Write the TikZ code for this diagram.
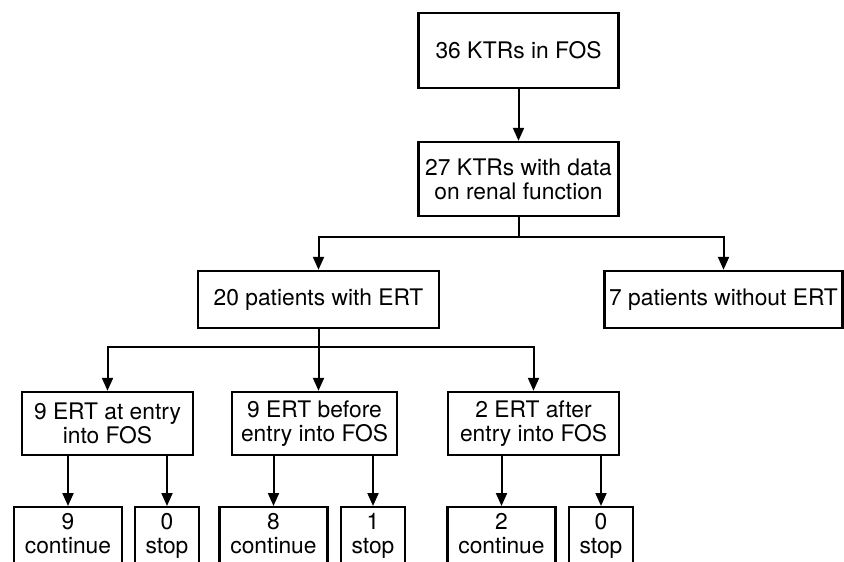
\documentclass[tikz,border=0pt]{standalone}
\usepackage{fontspec}
\setmainfont{TeX Gyre Heros}
\usetikzlibrary{arrows.meta,positioning}

\begin{document}
\begin{tikzpicture}[
    x=0.5pt, y=-0.5pt,
    box/.style={draw, line width=1.2pt, align=center, inner sep=0pt,
                font=\fontsize{11.4}{12}\selectfont},
    leaf/.style={box, anchor=north, inner ysep=2.6pt, text depth=40pt,
                 minimum width=#1},
    arrow/.style={-{Triangle[length=6.5pt, width=5.5pt]}, line width=1pt}
]
\useasboundingbox (0,0) rectangle (844,561);
\clip (0,0) rectangle (844,561);

\node[box, minimum width=100pt, minimum height=37.5pt] (fos) at (518.5,50.5) {36 KTRs in FOS};
\node[box, minimum width=100pt, minimum height=37pt] (renal) at (518.5,179) {27 KTRs with data\\on renal function};

\node[box, minimum width=120.5pt, minimum height=28.5pt] (ert) at (318.5,299.5) {20 patients with ERT};
\node[box, minimum width=119pt, minimum height=28.5pt] (noert) at (723.5,299.5) {7 patients without ERT};

\node[box, minimum width=85.5pt, minimum height=31.5pt] (atentry) at (107.5,423.5) {9 ERT at entry\\into FOS};
\node[box, minimum width=82.5pt, minimum height=31.5pt] (before) at (314.5,423.5) {9 ERT before\\entry into FOS};
\node[box, minimum width=85.5pt, minimum height=31.5pt] (after) at (533.5,423.5) {2 ERT after\\entry into FOS};

\node[leaf=54pt] (cont1) at (68,506) {\begin{tabular}[t]{@{}c@{}}9\\continue\end{tabular}};
\node[leaf=32pt] (stop1) at (167,506) {\begin{tabular}[t]{@{}c@{}}0\\stop\end{tabular}};
\node[leaf=54pt] (cont2) at (273.5,506) {\begin{tabular}[t]{@{}c@{}}8\\continue\end{tabular}};
\node[leaf=32pt] (stop2) at (373,506) {\begin{tabular}[t]{@{}c@{}}1\\stop\end{tabular}};
\node[leaf=54pt] (cont3) at (501.5,506) {\begin{tabular}[t]{@{}c@{}}2\\continue\end{tabular}};
\node[leaf=32pt] (stop3) at (601,506) {\begin{tabular}[t]{@{}c@{}}0\\stop\end{tabular}};

\coordinate (split1) at (0,237);
\coordinate (split2) at (0,347);

\draw[arrow] (fos) -- (renal);
\draw[line width=1pt] (renal.south) -- (renal.south |- split1);
\draw[arrow] (renal.south |- split1) -| (ert.north);
\draw[arrow] (renal.south |- split1) -| (noert.north);

\draw[line width=1pt] (ert.south) -- (ert.south |- split2);
\draw[arrow] (ert.south |- split2) -| (atentry.north);
\draw[arrow] (ert.south) -- (ert.south |- before.north);
\draw[arrow] (ert.south |- split2) -| (after.north);

\draw[arrow] (cont1.north |- atentry.south) -- (cont1.north);
\draw[arrow] (stop1.north |- atentry.south) -- (stop1.north);
\draw[arrow] (cont2.north |- before.south) -- (cont2.north);
\draw[arrow] (stop2.north |- before.south) -- (stop2.north);
\draw[arrow] (cont3.north |- after.south) -- (cont3.north);
\draw[arrow] (stop3.north |- after.south) -- (stop3.north);
\end{tikzpicture}
\end{document}
